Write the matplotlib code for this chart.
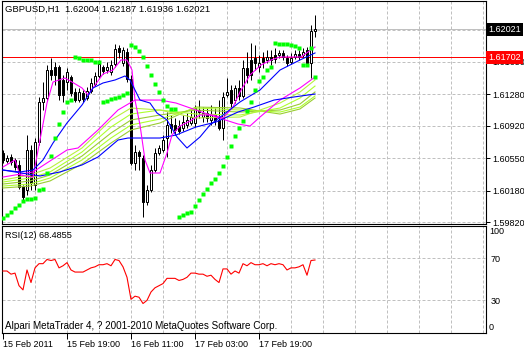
import matplotlib
matplotlib.use("Agg")
import matplotlib.pyplot as plt
import matplotlib.transforms as mtransforms
import numpy as np

plt.rcParams['font.family'] = ['Liberation Sans', 'DejaVu Sans']

# GBPUSD H1, one bar per hour from 15 Feb 2011 00:00
opens = [1.60609, 1.60517, 1.60563, 1.60529, 1.60472, 1.60220, 1.60186, 1.60643, 1.60243, 1.60734,
         1.61192, 1.61237, 1.61557, 1.61592, 1.61592, 1.61443, 1.61420, 1.61477, 1.61306, 1.61214,
         1.61294, 1.61237, 1.61317, 1.61397, 1.61489, 1.61592, 1.61557, 1.61535, 1.61626, 1.61809,
         1.61637, 1.61763, 1.61454, 1.60494, 1.60620, 1.60552, 1.60049, 1.60186, 1.60414, 1.60609,
         1.60643, 1.60780, 1.60940, 1.60929, 1.60917, 1.60894, 1.60929, 1.60952, 1.60952, 1.61100,
         1.61020, 1.61066, 1.60986, 1.61043, 1.60986, 1.60894, 1.61272, 1.61329, 1.61214, 1.61352,
         1.61260, 1.61580, 1.61672, 1.61695, 1.61592, 1.61695, 1.61672, 1.61706, 1.61729, 1.61729,
         1.61752, 1.61695, 1.61649, 1.61706, 1.61740, 1.61729, 1.61786, 1.61637, 1.62004]
highs = [1.60643, 1.60586, 1.60597, 1.60552, 1.60529, 1.60243, 1.60814, 1.60700, 1.60780, 1.61249,
         1.61420, 1.61615, 1.61695, 1.61649, 1.61615, 1.61500, 1.61580, 1.61500, 1.61352, 1.61352,
         1.61329, 1.61363, 1.61466, 1.61535, 1.61672, 1.61615, 1.61649, 1.61672, 1.61855, 1.61843,
         1.61820, 1.61809, 1.61500, 1.60700, 1.60643, 1.60586, 1.60243, 1.60472, 1.60666, 1.60700,
         1.60814, 1.61077, 1.61043, 1.61009, 1.60986, 1.61043, 1.61066, 1.61123, 1.61157, 1.61214,
         1.61134, 1.61123, 1.61157, 1.61123, 1.61214, 1.61306, 1.61466, 1.61386, 1.61386, 1.61443,
         1.61672, 1.61763, 1.61866, 1.61843, 1.61729, 1.61763, 1.61786, 1.61786, 1.61809, 1.61786,
         1.61786, 1.61729, 1.61752, 1.61786, 1.61786, 1.61809, 1.61820, 1.62072, 1.62187]
lows = [1.60494, 1.60494, 1.60472, 1.60414, 1.60197, 1.60071, 1.60129, 1.60186, 1.60186, 1.60700,
        1.61100, 1.61214, 1.61443, 1.61386, 1.61214, 1.61192, 1.61329, 1.61260, 1.61192, 1.61192,
        1.61192, 1.61214, 1.61294, 1.61374, 1.61466, 1.61512, 1.61523, 1.61500, 1.61592, 1.61695,
        1.61603, 1.61420, 1.60472, 1.60414, 1.60414, 1.59877, 1.60014, 1.60163, 1.60392, 1.60586,
        1.60620, 1.60563, 1.60837, 1.60814, 1.60826, 1.60860, 1.60894, 1.60929, 1.60906, 1.61009,
        1.60963, 1.60963, 1.60929, 1.60929, 1.60872, 1.60757, 1.61249, 1.61123, 1.61180, 1.61214,
        1.61237, 1.61409, 1.61443, 1.61557, 1.61535, 1.61580, 1.61637, 1.61615, 1.61637, 1.61695,
        1.61672, 1.61603, 1.61626, 1.61683, 1.61672, 1.61706, 1.61615, 1.61466, 1.61936]
closes = [1.60529, 1.60552, 1.60506, 1.60449, 1.60220, 1.60106, 1.60643, 1.60266, 1.60734, 1.61192,
          1.61237, 1.61557, 1.61500, 1.61500, 1.61272, 1.61272, 1.61535, 1.61294, 1.61214, 1.61306,
          1.61226, 1.61317, 1.61409, 1.61489, 1.61626, 1.61546, 1.61592, 1.61615, 1.61797, 1.61763,
          1.61786, 1.61454, 1.60494, 1.60620, 1.60574, 1.60049, 1.60186, 1.60414, 1.60609, 1.60666,
          1.60757, 1.60929, 1.60894, 1.60872, 1.60860, 1.60963, 1.60986, 1.61020, 1.61123, 1.61077,
          1.61066, 1.61009, 1.61043, 1.60986, 1.60894, 1.61249, 1.61306, 1.61180, 1.61352, 1.61260,
          1.61580, 1.61500, 1.61500, 1.61637, 1.61637, 1.61649, 1.61706, 1.61672, 1.61683, 1.61752,
          1.61706, 1.61637, 1.61695, 1.61740, 1.61706, 1.61763, 1.61637, 1.62004, 1.62021]

# parabolic SAR, one dot per bar
sar = [1.59866, 1.59900, 1.59934, 1.59980, 1.60014, 1.60060, 1.60083, 1.60083, 1.60094, 1.60186,
       1.60197, 1.60380, 1.60574, 1.60780, 1.60940, 1.61077, 1.61192, 1.61214, 1.61706, 1.61695,
       1.61672, 1.61672, 1.61672, 1.61649, 1.61649, 1.61192, 1.61203, 1.61226, 1.61237, 1.61249,
       1.61272, 1.61294, 1.61843, 1.61820, 1.61775, 1.61706, 1.61603, 1.61500, 1.61397, 1.61306,
       1.61214, 1.61146, 1.61112, 1.61112, 1.59877, 1.59900, 1.59923, 1.59934, 1.60003, 1.60071,
       1.60140, 1.60197, 1.60266, 1.60311, 1.60380, 1.60460, 1.60563, 1.60689, 1.60803, 1.60894,
       1.60974, 1.61089, 1.61192, 1.61329, 1.61432, 1.61477, 1.61557, 1.61592, 1.61866, 1.61855,
       1.61855, 1.61855, 1.61843, 1.61832, 1.61809, 1.61615, 1.61615, 1.61809, 1.61477]

# RSI(12), one value per bar
rsi = [58, 58, 55, 56, 44, 40, 59, 47, 61, 65,
       65, 69, 68, 69, 61, 63, 66, 59, 57, 57,
       57, 59, 61, 62, 64, 64, 65, 63, 69, 68,
       62, 52, 31, 34, 33, 27, 30, 38, 42, 44,
       46, 51, 51, 51, 49, 50, 52, 56, 56, 55,
       55, 53, 54, 50, 47, 60, 60, 55, 58, 56,
       65, 63, 66, 64, 64, 65, 63, 65, 64, 65,
       64, 59, 61, 61, 62, 64, 54, 68, 68.4855]

# moving averages, read as (bar, price) vertices
blue_fast_x = [0, 4.25, 7.5, 10, 12.5, 16, 19.75, 22.5, 25, 28, 30.5, 31.75, 34.25, 36.75, 38.5, 41,
               43.5, 46, 49.25, 51.75, 55, 59.25, 64.25, 69.25, 74.25, 78]
blue_fast_y = [1.60414, 1.60392, 1.60414, 1.60529, 1.60723, 1.60952, 1.61157, 1.61352, 1.61409, 1.61443,
               1.61489, 1.61443, 1.61214, 1.61180, 1.61066, 1.60986, 1.60792, 1.60666, 1.60792, 1.60929,
               1.61043, 1.61192, 1.61329, 1.61557, 1.61672, 1.61752]
blue_slow_x = [0, 9.25, 14.25, 19.75, 23.75, 28.75, 31.25, 39.25, 43.25, 48.25, 53.25, 58.75, 62.75,
               67.75, 72.75, 78]
blue_slow_y = [1.60414, 1.60346, 1.60392, 1.60472, 1.60563, 1.60757, 1.60780, 1.60780, 1.60814, 1.60906,
               1.60963, 1.61077, 1.61134, 1.61214, 1.61249, 1.61283]
mag_fast_x = [0, 3, 4.25, 7.5, 9.25, 11, 12.5, 15.5, 17.25, 19.75, 21.25, 22.5, 25, 27.5, 29.5, 31,
              32.25, 33, 34.25, 35.5, 36.75, 39.25, 41, 42.25, 44.25, 46.75, 49.25, 52.5, 55, 57.5,
              59.25, 61.75, 64.5, 67, 69.25, 74.5, 78]
mag_fast_y = [1.60449, 1.60529, 1.60357, 1.60334, 1.60757, 1.61180, 1.61420, 1.61466, 1.61420, 1.61352,
              1.61272, 1.61352, 1.61512, 1.61557, 1.61672, 1.61672, 1.61557, 1.61214, 1.60929, 1.60529,
              1.60380, 1.60380, 1.60609, 1.60814, 1.60917, 1.60974, 1.61043, 1.61043, 1.61009, 1.61134,
              1.61306, 1.61500, 1.61615, 1.61672, 1.61706, 1.61706, 1.61820]
mag_slow_x = [0, 7.5, 16, 18.75, 23.75, 28.75, 33, 39.25, 43.25, 48.25, 53.25, 58.75, 61.75, 64.25,
              69.25, 74.25, 78]
mag_slow_y = [1.60334, 1.60392, 1.60643, 1.60666, 1.60872, 1.61100, 1.61214, 1.61214, 1.61180, 1.61100,
              1.61020, 1.60940, 1.60917, 1.61020, 1.61214, 1.61352, 1.61477]
green_x = [0, 6.75, 11.75, 19.75, 27, 32, 39.25, 48.25, 59.25, 69.25, 74.25, 78]
green_1 = [1.60300, 1.60357, 1.60437, 1.60666, 1.60986, 1.61123, 1.61100, 1.61009, 1.61020, 1.61180, 1.61306, 1.61443]
green_2 = [1.60277, 1.60323, 1.60392, 1.60620, 1.60906, 1.61054, 1.61100, 1.61054, 1.61043, 1.61123, 1.61237, 1.61374]
green_3 = [1.60254, 1.60289, 1.60357, 1.60574, 1.60837, 1.60986, 1.61043, 1.61100, 1.61077, 1.61100, 1.61169, 1.61306]
green_4 = [1.60231, 1.60254, 1.60323, 1.60529, 1.60780, 1.60929, 1.60997, 1.61123, 1.61100, 1.61077, 1.61134, 1.61260]
green_5 = [1.60209, 1.60231, 1.60289, 1.60483, 1.60723, 1.60872, 1.60952, 1.61134, 1.61123, 1.61054, 1.61112, 1.61237]

price_ticks = [1.59820, 1.60180, 1.60550, 1.60920, 1.61280, 1.61650, 1.62010]
price_labels = ["1.59820", "1.60180", "1.60550", "1.60920", "1.61280", "1.61650", ""]
bid = 1.62021
red_level = 1.61702
time_ticks = [0, 16, 32, 48, 64]
time_labels = ["15 Feb 2011", "15 Feb 19:00", "16 Feb 11:00", "17 Feb 03:00", "17 Feb 19:00"]

W, H = 524, 351
fig = plt.figure(figsize=(W / 100, H / 100), dpi=100)

def px_axes(l, t, r, b):
    return fig.add_axes([l / W, 1 - b / H, (r - l) / W, (b - t) / H])

ax = px_axes(2, 1, 486, 223.5)
ax2 = px_axes(2, 225.5, 486, 333.3)

grid_kw = dict(color='#C0C0C0', lw=0.72, linestyle=(0, (3, 2)), zorder=1)
for a in (ax, ax2):
    a.set_xlim(-0.25, 120.75)
    for s in a.spines.values():
        s.set_color('black')
        s.set_linewidth(0.8)
    for gx in range(8, 121, 8):
        a.axvline(gx, **grid_kw)

# main price panel
ax.set_ylim(1.59803, 1.62346)
for p in price_ticks:
    ax.axhline(p, **grid_kw)
ax.axhline(bid, color='#C0C0C0', lw=0.72, zorder=2)
ax.axhline(red_level, color='#FF0000', lw=0.72, zorder=2)

idx = np.arange(len(closes))
o = np.array(opens)
c = np.array(closes)
ax.vlines(idx, lows, highs, color='black', lw=0.72, zorder=3)
up = c >= o
ax.bar(idx[up], (c - o)[up], bottom=o[up], width=0.5, color='white',
       edgecolor='black', lw=0.72, zorder=4)
ax.bar(idx[~up], (o - c)[~up], bottom=c[~up], width=0.5, color='black',
       edgecolor='black', lw=0.72, zorder=4)

for gy, col in zip([green_5, green_4, green_3, green_2, green_1],
                   ['#9ACD32', '#ADFF2F', '#9ACD32', '#ADFF2F', '#B8F040']):
    ax.plot(green_x, gy, color=col, lw=0.8, zorder=5)
ax.plot(mag_slow_x, mag_slow_y, color='#FF00FF', lw=0.8, zorder=5)
ax.plot(blue_slow_x, blue_slow_y, color='#0000FF', lw=0.8, zorder=5)
ax.plot(mag_fast_x, mag_fast_y, color='#FF00FF', lw=0.8, zorder=5)
ax.plot(blue_fast_x, blue_fast_y, color='#0000FF', lw=0.8, zorder=5)
ax.plot(idx, sar, 's', color='#00FF00', ms=2.7, mec='none', zorder=6)

ax.set_xticks([])
ax.yaxis.tick_right()
ax.set_yticks(price_ticks)
ax.set_yticklabels(price_labels)
ax.tick_params(axis='y', length=3, width=0.72, pad=1.5, labelsize=6.5)

tr = mtransforms.blended_transform_factory(ax.transAxes, ax.transData)
ax.text(1.004, bid, "%.5f" % bid, transform=tr, color='white', fontsize=6.5, va='center',
        ha='left', clip_on=False, zorder=10,
        bbox=dict(boxstyle='square,pad=0.25', fc='black', ec='none'))
ax.text(1.004, red_level, "%.5f" % red_level, transform=tr, color='white', fontsize=6.5,
        va='center', ha='left', clip_on=False, zorder=10,
        bbox=dict(boxstyle='square,pad=0.25', fc='red', ec='none'))

# RSI panel
ax2.set_ylim(-1.4, 101.4)
for lvl in (30, 70):
    ax2.axhline(lvl, **grid_kw)
ax2.plot(idx, rsi, color='red', lw=0.8, zorder=3)
ax2.yaxis.tick_right()
ax2.set_yticks([30, 70])
ax2.set_yticklabels(["30", "70"])
ax2.tick_params(axis='y', length=0, pad=3, labelsize=6.5)
tr2 = mtransforms.blended_transform_factory(ax2.transAxes, ax2.transData)
ax2.text(1.006, 100, "100", transform=tr2, fontsize=6.5, va='top', ha='left')
ax2.text(1.006, 0, "0", transform=tr2, fontsize=6.5, va='bottom', ha='left')

ax2.set_xticks(time_ticks)
ax2.set_xticklabels(time_labels)
ax2.tick_params(axis='x', length=4, width=0.72, pad=1, labelsize=6.5)
for lab in ax2.get_xticklabels():
    lab.set_horizontalalignment('left')

fig.text(5 / W, 1 - 9 / H, "GBPUSD,H1  1.62004 1.62187 1.61936 1.62021", fontsize=6.8, va='center')
fig.text(5 / W, 1 - 236 / H, "RSI(12) 68.4855", fontsize=6.6, va='center')
fig.text(5 / W, 1 - 326 / H, "Alpari MetaTrader 4, ? 2001-2010 MetaQuotes Software Corp.",
         fontsize=7.1, va='center')

fig.savefig("out.png", dpi=100, facecolor='white')
